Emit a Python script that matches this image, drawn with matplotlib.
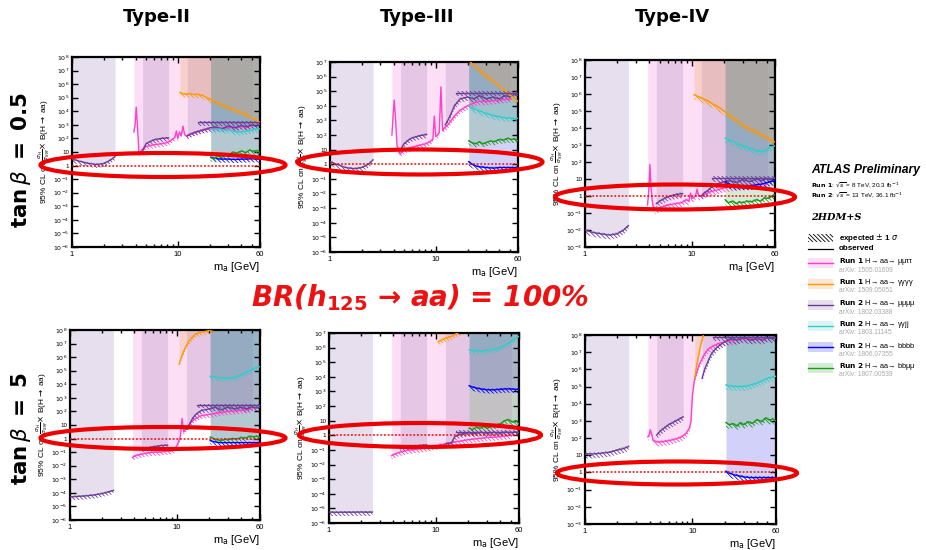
import matplotlib
matplotlib.use("Agg")
import matplotlib.pyplot as plt
from matplotlib.patches import Ellipse, Rectangle
from matplotlib.ticker import FixedLocator, NullLocator, FuncFormatter
import numpy as np

plt.rcParams['font.family'] = ['Liberation Sans', 'DejaVu Sans']
plt.rcParams['hatch.linewidth'] = 0.6

BR_LINE = 1.0

# mass grids (GeV) for each search
X_MUTAU = [3.85, 3.95, 4.05, 4.15, 4.3, 4.6, 5.0, 5.5, 6.0, 7.0, 8.0, 8.8, 9.4, 9.7, 10.0,
           10.4, 10.8, 11.2, 11.6, 12.0, 13.0, 14.0, 15.0, 17.0, 20.0, 25.0, 30.0, 40.0, 51.0]
X_MU4_LO = [1.0, 1.2, 1.4, 1.7, 2.0, 2.3, 2.55]
X_MU4_MID = [4.65, 5.0, 5.5, 6.0, 7.0, 8.2]
X_MU4_HI = [12.3, 13, 14, 15, 17, 20, 23, 26, 30, 35, 40, 45, 50, 55, 60]
X_MU4_EXP = [15.5, 20, 30, 40, 50, 60]
X_4G = [10.5, 11, 12, 13, 14, 15, 17, 20, 23, 26, 30, 35, 40, 45, 50, 55, 60]
X_2G2J = [20.5, 22, 25, 28, 30, 33, 36, 40, 45, 50, 55, 60]
X_4B = [20.5, 22, 25, 30, 35, 40, 45, 50, 55, 60]
X_2B2M = [20.5, 22, 24, 26, 28, 30, 33, 36, 40, 44, 48, 52, 56, 60]

# Type-II, tan beta = 0.5
T2A_MUTAU = [3e2, 1e3, 2e4, 1e3, 8, 15, 25, 30, 35, 40, 50, 80, 120, 350, 100, 300, 150, 800, 200,
             150, 200, 250, 300, 400, 500, 600, 600, 700, 800]
T2A_MU4_LO = [3, 2, 1.5, 1.2, 1.4, 2.5, 4.5]
T2A_MU4_MID = [12, 40, 60, 80, 100, 110]
T2A_MU4_HI = [150, 200, 250, 300, 400, 600, 700, 500, 800, 600, 900, 700, 1000, 800, 1100]
T2A_MU4_EXP = [1.5e3, 1.5e3, 1.5e3, 1.5e3, 1.5e3, 1.5e3]
T2A_4G = [2.5e5, 2e5, 1.8e5, 2e5, 1.7e5, 1.8e5, 1.5e5, 8e4, 5e4, 3e4, 2e4, 1.2e4, 8e3, 6e3, 3e3, 2.5e3, 1.5e3]
T2A_2G2J = [5e2, 4.5e2, 5e2, 4e2, 4.5e2, 3.5e2, 3e2, 3e2, 3.5e2, 4e2, 5e2, 5e2]
T2A_4B = [4, 3.5, 3, 3, 2.8, 3, 3, 3.2, 3, 3]
T2A_2B2M = [4, 3, 5, 4, 6, 5, 10, 8, 12, 9, 14, 11, 13, 9]

# Type-III, tan beta = 0.5
T3A_MUTAU = [1e2, 2e3, 2.5e4, 2e3, 20, 5, 10, 12, 15, 20, 25, 35, 50, 2e3, 80, 100, 150, 2e5, 200,
             300, 500, 1e3, 2e3, 5e3, 1e4, 2e4, 2e4, 2.5e4, 3e4]
T3A_MU4_LO = [1.5, 0.9, 0.6, 0.5, 0.6, 1.0, 2.0]
T3A_MU4_MID = [10, 25, 45, 65, 90, 110]
T3A_MU4_HI = [500, 1e3, 3e3, 1e4, 3e4, 4e4, 3e4, 5e4, 3e4, 4e4, 3e4, 5e4, 4e4, 6e4, 5e4]
T3A_MU4_EXP = [8e4, 8e4, 8e4, 8e4, 8e4, 8e4]
T3A_4G = [1e9, 1e9, 8e8, 6e8, 4e8, 2e8, 8e7, 1.5e7, 5.8e6, 2.8e6, 1.2e6, 5e5, 2.2e5, 1.1e5, 6e4, 3.4e4, 2e4]
T3A_2G2J = [1e4, 7e3, 5e3, 3.5e3, 3e3, 2.5e3, 2e3, 1.8e3, 1.5e3, 1.5e3, 1.3e3, 1.4e3]
T3A_4B = [1.5, 1.0, 0.7, 0.6, 0.55, 0.6, 0.6, 0.6, 0.6, 0.6]
T3A_2B2M = [40, 30, 25, 35, 25, 30, 40, 35, 50, 45, 60, 50, 55, 40]

# Type-IV, tan beta = 0.5
T4A_MUTAU = [0.3, 2, 70, 3, 0.3, 0.15, 0.2, 0.25, 0.3, 0.35, 0.4, 0.6, 0.5, 1.5, 0.7, 0.8, 1.0, 2.5,
             1.0, 1.0, 1.2, 1.5, 1.8, 2.2, 3, 3.5, 4, 4.5, 5]
T4A_MU4_LO = [1e-2, 7e-3, 6e-3, 5e-3, 6e-3, 1e-2, 1.8e-2]
T4A_MU4_MID = [0.35, 0.5, 0.7, 0.9, 1.2, 1.4]
T4A_MU4_HI = [1.0, 1.5, 2, 3, 5, 7, 8, 6, 9, 7, 10, 8, 11, 9, 12]
T4A_MU4_EXP = [12, 12, 12, 12, 12, 12]
T4A_4G = [9e5, 8e5, 6e5, 5e5, 4e5, 3e5, 2e5, 1e5, 5e4, 3e4, 1.5e4, 9e3, 6e3, 4e3, 3e3, 2e3, 1.5e3]
T4A_2G2J = [2.5e3, 2e3, 1.5e3, 1e3, 9e2, 7e2, 6e2, 4.5e2, 4e2, 5e2, 8e2, 9e2]
T4A_4B = [7, 5, 4, 4, 4, 4.5, 5, 6, 7, 8]
T4A_2B2M = [0.6, 0.4, 0.5, 0.35, 0.45, 0.4, 0.5, 0.45, 0.6, 0.5, 0.8, 0.7, 1.0, 1.2]

# Type-II, tan beta = 5
T2B_MUTAU = [0.04, 0.05, 0.05, 0.06, 0.06, 0.07, 0.08, 0.09, 0.1, 0.1, 0.12, 0.12, 0.15, 0.2, 0.3,
             0.6, 1.5, 30, 3, 5, 10, 20, 30, 50, 60, 80, 100, 120, 150]
T2B_MU4_LO = [5e-5, 5.5e-5, 6e-5, 7e-5, 9e-5, 1.2e-4, 1.5e-4]
T2B_MU4_MID = [0.18, 0.2, 0.22, 0.25, 0.3, 0.33]
T2B_MU4_HI = [5, 10, 30, 60, 120, 150, 200, 130, 200, 150, 200, 150, 220, 180, 200]
T2B_MU4_EXP = [3e2, 3e2, 3e2, 3e2, 3e2, 3e2]
T2B_4G = [3e5, 1e6, 5e6, 1.5e7, 3e7, 5e7, 7e7, 9e7, 1.2e8, 1.5e8, 1.5e8, 2e8, 2e8, 2e8, 2e8, 2e8, 2e8]
T2B_2G2J = [4e4, 3.5e4, 3e4, 2.8e4, 2.8e4, 3e4, 3.5e4, 5e4, 8e4, 1.2e5, 1.7e5, 2e5]
T2B_4B = [0.7, 0.6, 0.5, 0.5, 0.5, 0.5, 0.5, 0.5, 0.5, 0.5]
T2B_2B2M = [1.3, 1.0, 0.8, 0.7, 0.9, 0.8, 1.0, 0.9, 1.2, 1.1, 1.5, 1.3, 1.5, 1.2]

# Type-III, tan beta = 5
T3B_MUTAU = [0.04, 0.045, 0.05, 0.05, 0.06, 0.07, 0.08, 0.1, 0.1, 0.12, 0.13, 0.15, 0.17, 0.2, 0.18,
             0.2, 0.22, 0.25, 0.22, 0.25, 0.3, 0.3, 0.35, 0.4, 0.5, 0.6, 0.7, 0.8, 1.0]
T3B_MU4_LO = [5.5e-6, 5.4e-6, 5.5e-6, 5.5e-6, 5.6e-6, 5.5e-6, 5.6e-6]
T3B_MU4_MID = [0.12, 0.14, 0.16, 0.18, 0.2, 0.22]
T3B_MU4_HI = [0.25, 0.28, 0.3, 0.8, 1.2, 1.5, 1.3, 1.6, 1.4, 1.6, 1.4, 1.7, 1.5, 1.7, 1.6]
T3B_MU4_EXP = [1.8, 1.8, 1.8, 1.8, 1.8, 1.8]
T3B_4G = [2.5e6, 3e6, 4e6, 5e6, 6e6, 8e6, 1.2e7, 2e7, 3e7, 3e7, 3e7, 3e7, 3e7, 3e7, 3e7, 3e7, 3e7]
T3B_2G2J = [7e5, 6.5e5, 6e5, 6e5, 6.5e5, 7e5, 8e5, 1e6, 1.5e6, 2.5e6, 4e6, 6e6]
T3B_4B = [2.5e3, 2e3, 1.6e3, 1.3e3, 1.3e3, 1.4e3, 1.5e3, 1.5e3, 1.4e3, 1.4e3]
T3B_2B2M = [3, 2.5, 3.5, 3, 4, 3, 4, 5, 6, 10, 12, 8, 10, 6]

# Type-IV, tan beta = 5
T4B_MUTAU = [120, 150, 300, 200, 80, 60, 60, 65, 70, 90, 120, 200, 400, 1e3, 3e4, 2e5, 5e5, 1e6,
             2e6, 3e6, 8e6, 1.5e7, 2e7, 3e7, 4e7, 5e7, 6e7, 6e7, 7e7]
T4B_MU4_LO = [12, 12, 13, 15, 20, 25, 32]
T4B_MU4_MID = [150, 250, 400, 600, 1e3, 1.7e3]
T4B_MU4_HI = [3e5, 1e6, 3e6, 8e6, 2e7, 4e7, 6e7, 5e7, 7e7, 5e7, 6e7, 5e7, 7e7, 6e7, 7e7]
T4B_MU4_EXP = [8e7, 8e7, 8e7, 8e7, 8e7, 8e7]
T4B_4G = [3e5, 2e6, 3e7, 2e8, 5e8, 5e8, 5e8, 5e8, 5e8, 5e8, 5e8, 5e8, 5e8, 5e8, 5e8, 5e8, 5e8]
T4B_2G2J = [1.2e5, 1.1e5, 1e5, 1e5, 1e5, 1.1e5, 1.3e5, 1.6e5, 2.2e5, 3e5, 3.5e5, 4e5]
T4B_4B = [1.2, 0.9, 0.7, 0.55, 0.5, 0.5, 0.5, 0.5, 0.5, 0.5]
T4B_2B2M = [8e2, 6e2, 7e2, 5e2, 8e2, 6e2, 9e2, 7e2, 1.2e3, 9e2, 1.5e3, 1.1e3, 1.3e3, 1e3]

COL_TITLES = ["Type-II", "Type-III", "Type-IV"]
ROW_TITLES = [r"$\mathbf{tan}\,\beta\ \mathbf{=\ 0.5}$", r"$\mathbf{tan}\,\beta\ \mathbf{=\ 5}$"]

LEG_ENTRIES = [("Run 1", "H→ aa→ μμττ", "arXiv: 1505.01609", "mutau"),
               ("Run 1", "H→ aa→ γγγγ", "arXiv: 1509.05051", "4g"),
               ("Run 2", "H→ aa→ μμμμ", "arXiv: 1802.03388", "mu4"),
               ("Run 2", "H→ aa→ γγjj", "arXiv: 1803.11145", "2g2j"),
               ("Run 2", "H→ aa→ bbbb", "arXiv: 1806.07355", "4b"),
               ("Run 2", "H→ aa→ bbμμ", "arXiv: 1807.00539", "2b2m")]

LINE_C = {"mutau": "#ff3fcc", "4g": "#ff9900", "mu4": "#6a3d9a",
          "2g2j": "#33cccc", "4b": "#0000ff", "2b2m": "#1a9a1a"}
FILL_C = {"mutau": (0.97, 0.51, 0.84, 0.25), "4g": (0.94, 0.63, 0.32, 0.25),
          "mu4": (0.64, 0.50, 0.73, 0.25), "2g2j": (0.45, 0.85, 0.85, 0.25),
          "4b": (0.29, 0.29, 0.92, 0.25), "2b2m": (0.37, 0.69, 0.37, 0.25)}


def panel_series(p):
    g = globals()
    return [("mutau", X_MUTAU, g[p + "_MUTAU"]),
            ("mu4", X_MU4_LO, g[p + "_MU4_LO"]),
            ("mu4", X_MU4_MID, g[p + "_MU4_MID"]),
            ("mu4", X_MU4_HI, g[p + "_MU4_HI"]),
            ("2g2j", X_2G2J, g[p + "_2G2J"]),
            ("4b", X_4B, g[p + "_4B"]),
            ("2b2m", X_2B2M, g[p + "_2B2M"]),
            ("4g", X_4G, g[p + "_4G"])]


# panel key, y exponent range, axes box in pixels (left, top, right, bottom)
PANELS = [("T2A", -6, 8, (72, 57, 260, 247)),
          ("T3A", -6, 7, (330, 62, 518, 252)),
          ("T4A", -3, 8, (585, 60, 775, 247)),
          ("T2B", -6, 8, (70, 330, 260, 520)),
          ("T3B", -6, 7, (329, 333, 519, 523)),
          ("T4B", -3, 8, (585, 335, 776, 524))]

W, H = 926, 550
fig = plt.figure(figsize=(W / 100, H / 100), dpi=100)


def ytick_fmt(v, pos):
    n = int(round(np.log10(v)))
    if n == 0:
        return "1"
    if n == 1:
        return "10"
    return r"$10^{%d}$" % n


for key, elo, ehi, (l, t, r, b) in PANELS:
    ax = fig.add_axes([l / W, 1 - b / H, (r - l) / W, (b - t) / H])
    ytop = 10.0 ** ehi
    series = panel_series(key)
    for name, x, y in series:
        ax.fill_between(x, y, ytop, color=FILL_C[name], lw=0, zorder=1)
    exp_y = globals()[key + "_MU4_EXP"]
    for name, x, y in series + [("mu4", X_MU4_EXP, exp_y)]:
        ya = np.array(y, dtype=float)
        ax.fill_between(x, ya * 0.55, ya * 1.2, facecolor="none", edgecolor=LINE_C[name],
                        hatch="\\\\\\\\\\\\\\\\", lw=0, zorder=2)
        ax.plot(x, y, color=LINE_C[name], lw=1.0, zorder=3)
    ax.axhline(BR_LINE, color="red", ls=(0, (1.2, 1.2)), lw=1.1, zorder=4)
    ax.set_xscale("log")
    ax.set_yscale("log")
    ax.set_xlim(1, 60)
    ax.set_ylim(10.0 ** elo, ytop)
    ax.xaxis.set_major_locator(FixedLocator([1, 10, 60]))
    ax.xaxis.set_minor_locator(FixedLocator([2, 3, 4, 5, 6, 7, 8, 9, 20, 30, 40, 50]))
    ax.set_xticklabels(["1", "10", "60"])
    ax.yaxis.set_major_locator(FixedLocator([10.0 ** k for k in range(elo, ehi + 1)]))
    ax.yaxis.set_minor_locator(NullLocator())
    ax.yaxis.set_major_formatter(FuncFormatter(ytick_fmt))
    ax.tick_params(which="both", direction="in", top=True, right=True, width=1.0)
    ax.tick_params(which="major", length=4)
    ax.tick_params(which="minor", length=2.5)
    ax.tick_params(axis="x", labelsize=5.5, pad=3)
    ax.tick_params(axis="y", labelsize=4.5, pad=2)
    for s in ax.spines.values():
        s.set_linewidth(1.6)
    ax.set_ylabel(r"95% CL on $\frac{\sigma_{H}}{\sigma_{SM}}$$\times$ B(H$\rightarrow$ aa)",
                  fontsize=6, labelpad=1)
    ax.set_xlabel(r"m$_{\rm a}$ [GeV]", fontsize=8, loc="right", labelpad=1)

# overlay in pixel coordinates for titles, annotations and legend
ov = fig.add_axes([0, 0, 1, 1])
ov.set_xlim(0, W)
ov.set_ylim(H, 0)
ov.axis("off")
ov.set_zorder(10)

for cx, txt in zip([157, 417, 672], COL_TITLES):
    ov.text(cx, 17, txt, ha="center", va="center", fontsize=13, fontweight="bold", family="DejaVu Sans")
for cy, txt in zip([160, 428], ROW_TITLES):
    ov.text(21, cy, txt, ha="center", va="center", fontsize=15.5, rotation=90)

ov.text(420, 298, r"BR(h$_{\mathbf{125}}$ → aa) = 100%", ha="center", va="center", color="#ee1111",
        fontsize=20, fontweight="bold", style="italic", family="DejaVu Sans")

for cx, cy, ew, eh in [(163, 165, 245, 24), (420, 162, 245, 25), (675, 197, 240, 25),
                       (163, 438, 245, 22), (420, 435, 242, 24), (677, 473, 240, 23)]:
    ov.add_patch(Ellipse((cx, cy), ew, eh, fill=False, edgecolor="#ee0000", lw=3))

# legend
ov.text(811, 170, "ATLAS Preliminary", fontsize=8.7, fontweight="bold", style="italic", va="center")
ov.text(811, 185, r"$\mathbf{Run\ 1}$: $\sqrt{s}$ = 8 TeV, 20.3 fb$^{-1}$", fontsize=4.6, va="center")
ov.text(811, 195, r"$\mathbf{Run\ 2}$: $\sqrt{s}$ = 13 TeV, 36.1 fb$^{-1}$", fontsize=4.6, va="center")
ov.text(811, 218, "2HDM+S", fontsize=7, fontweight="bold", style="italic", family="DejaVu Serif",
        va="center")
ov.add_patch(Rectangle((808, 234), 25, 8, facecolor="none", edgecolor="black",
                       hatch="\\\\\\\\\\\\\\\\", lw=0))
ov.text(839, 238, r"expected $\pm$ 1 $\sigma$", fontsize=5.8, fontweight="bold", va="center")
ov.plot([808, 833], [249, 249], color="black", lw=0.9)
ov.text(839, 248, "observed", fontsize=5.8, fontweight="bold", va="center")

for i, (run, proc, ref, name) in enumerate(LEG_ENTRIES):
    cy = 263 + i * 21
    ov.add_patch(Rectangle((808, cy - 5), 25, 10, facecolor=FILL_C[name], lw=0))
    ov.plot([808, 833], [cy, cy], color=LINE_C[name], lw=1.0)
    ov.text(839, cy - 1.5, r"$\mathbf{%s}$ %s" % (run.replace(" ", r"\ "), proc), fontsize=5.3, va="center")
    ov.text(839, cy + 7, ref, fontsize=4.8, color="#aaaaaa", va="center")

fig.savefig("out.png", dpi=100)
